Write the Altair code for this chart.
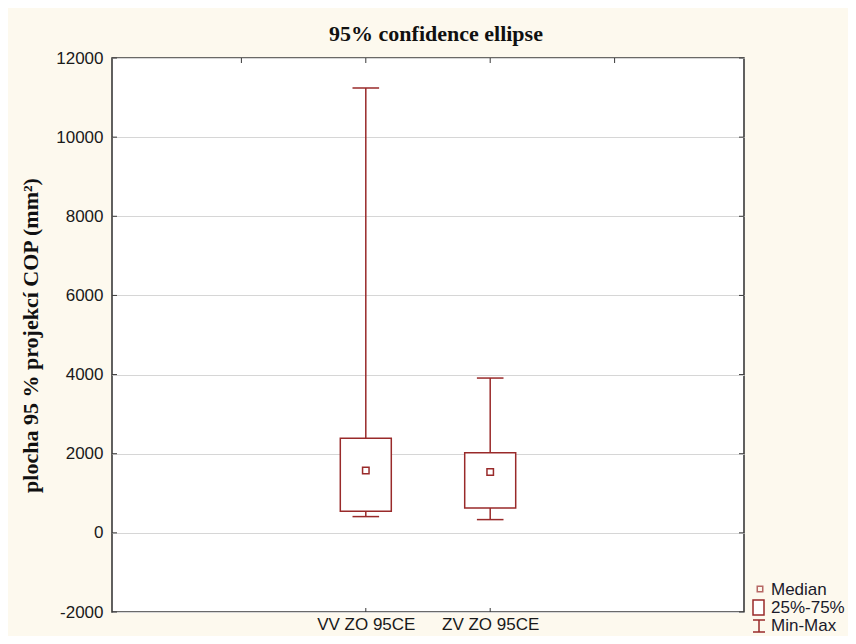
import altair as alt
import pandas as pd

# ---- data ----
categories = ["VV ZO 95CE", "ZV ZO 95CE"]
positions = [2, 3]
minimum = [411, 335]
q1 = [544, 630]
median = [1577, 1537]
q3 = [2393, 2023]
maximum = [11242, 3912]
y_ticks = [-2000, 0, 2000, 4000, 6000, 8000, 10000, 12000]
top_ticks = [1, 2, 3, 4]
legend_labels = ["Median", "25%-75%", "Min-Max"]

df = pd.DataFrame({
    "cat": categories, "pos": positions, "min": minimum, "q1": q1,
    "median": median, "q3": q3, "max": maximum,
})
df_y = pd.DataFrame({"v": y_ticks})
df_top = pd.DataFrame({"p": top_ticks})
df_bot = pd.DataFrame({"p": positions})
one = pd.DataFrame({"k": [0]})

RED = "#992a2a"
EDGE = "#3a3a3a"
W, H = 632, 554
SW = 1.5

label_expr = " : ".join(
    f"datum.value == {p} ? '{c}'" for p, c in zip(positions, categories)
) + " : ''"

xs = alt.Scale(domain=[0, 5], nice=False, zero=False)
ys = alt.Scale(domain=[-2000, 12000], nice=False, zero=False)

x_axis = alt.Axis(values=positions, labelExpr=label_expr, title=None, grid=False,
                  domain=False, ticks=False, labelFont="Liberation Sans",
                  labelFontSize=17, labelColor="#1a1a1a", labelPadding=4)
y_axis = alt.Axis(values=y_ticks, title="plocha 95 % projekcí COP (mm²)",
                  grid=True, gridColor="#d6d6d6", gridWidth=1, domain=False,
                  ticks=False, labelFont="Liberation Sans", labelFontSize=17,
                  labelColor="#1a1a1a", labelPadding=9,
                  labelExpr="'' + datum.value",
                  titleFont="Liberation Serif", titleFontSize=22,
                  titleFontWeight="bold", titleColor="#111111",
                  titleBaseline="middle", titleX=-82, titleY=H / 2, titleAngle=-90)

base = alt.Chart(df)

whisk_lo = base.mark_rule(color=RED, strokeWidth=SW).encode(
    x=alt.X("pos:Q", scale=xs, axis=x_axis),
    y=alt.Y("min:Q", scale=ys, axis=y_axis), y2="q1:Q")
whisk_hi = base.mark_rule(color=RED, strokeWidth=SW).encode(
    x=alt.X("pos:Q", scale=xs), y=alt.Y("q3:Q", scale=ys), y2="max:Q")
cap_lo = base.mark_rule(color=RED, strokeWidth=SW, xOffset=-13.3, x2Offset=13.3).encode(
    x=alt.X("pos:Q", scale=xs), x2="pos:Q", y=alt.Y("min:Q", scale=ys))
cap_hi = base.mark_rule(color=RED, strokeWidth=SW, xOffset=-13.3, x2Offset=13.3).encode(
    x=alt.X("pos:Q", scale=xs), x2="pos:Q", y=alt.Y("max:Q", scale=ys))
box = base.mark_bar(size=51, fill="white", stroke=RED, strokeWidth=SW).encode(
    x=alt.X("pos:Q", scale=xs), y=alt.Y("q1:Q", scale=ys), y2="q3:Q")
med = base.mark_square(size=42, filled=False, color=RED, strokeWidth=SW, opacity=1).encode(
    x=alt.X("pos:Q", scale=xs), y=alt.Y("median:Q", scale=ys))

# inward ticks on the frame
tick_l = alt.Chart(df_y).mark_rule(color=EDGE, strokeWidth=1).encode(
    y=alt.Y("v:Q", scale=ys), x=alt.value(0), x2=alt.value(5))
tick_r = alt.Chart(df_y).mark_rule(color=EDGE, strokeWidth=1).encode(
    y=alt.Y("v:Q", scale=ys), x=alt.value(W - 5), x2=alt.value(W))
tick_t = alt.Chart(df_top).mark_rule(color=EDGE, strokeWidth=1).encode(
    x=alt.X("p:Q", scale=xs), y=alt.value(0), y2=alt.value(5))
tick_b = alt.Chart(df_bot).mark_rule(color=EDGE, strokeWidth=1).encode(
    x=alt.X("p:Q", scale=xs), y=alt.value(H - 4), y2=alt.value(H))

# manual legend (bottom right, outside the frame)
lg = alt.Chart(one)
lg_med = lg.mark_square(size=30, filled=False, color=RED, strokeWidth=SW).encode(
    x=alt.value(648), y=alt.value(531))
lg_box = lg.mark_rect(fill="white", stroke=RED, strokeWidth=SW).encode(
    x=alt.value(641), x2=alt.value(652), y=alt.value(542), y2=alt.value(557))
lg_cap = lg.mark_rule(color=RED, strokeWidth=SW).encode(
    x=alt.value(641), x2=alt.value(653), y=alt.value(562))
lg_stem = lg.mark_rule(color=RED, strokeWidth=SW).encode(
    x=alt.value(647), y=alt.value(562), y2=alt.value(574))
lg_foot = lg.mark_rule(color=RED, strokeWidth=SW).encode(
    x=alt.value(641), x2=alt.value(653), y=alt.value(574))
txt_kw = dict(align="left", baseline="middle", font="Liberation Sans",
              fontSize=17, color="#1a1a2a")
lg_t = [
    lg.mark_text(**txt_kw).encode(x=alt.value(659), y=alt.value(yy), text=alt.value(t))
    for t, yy in zip(legend_labels, [532, 550, 568])
]

chart = alt.layer(
    whisk_lo, whisk_hi, cap_lo, cap_hi, box, med,
    tick_l, tick_r, tick_t, tick_b,
    lg_med, lg_box, lg_cap, lg_stem, lg_foot, *lg_t,
).properties(
    width=W, height=H,
    title=alt.TitleParams("95% confidence ellipse", font="Liberation Serif",
                          fontSize=22, fontWeight="bold", color="#111111",
                          anchor="middle", offset=3, dx=8),
    autosize=alt.AutoSizeParams(type="none"),
    padding={"left": 104, "top": 50, "right": 104, "bottom": 24},
    background="#fdf9ee",
).configure_view(
    fill="white", stroke=EDGE, strokeWidth=1.6,
)

chart.save("out.html", embed_options={"renderer": "svg", "actions": False})
